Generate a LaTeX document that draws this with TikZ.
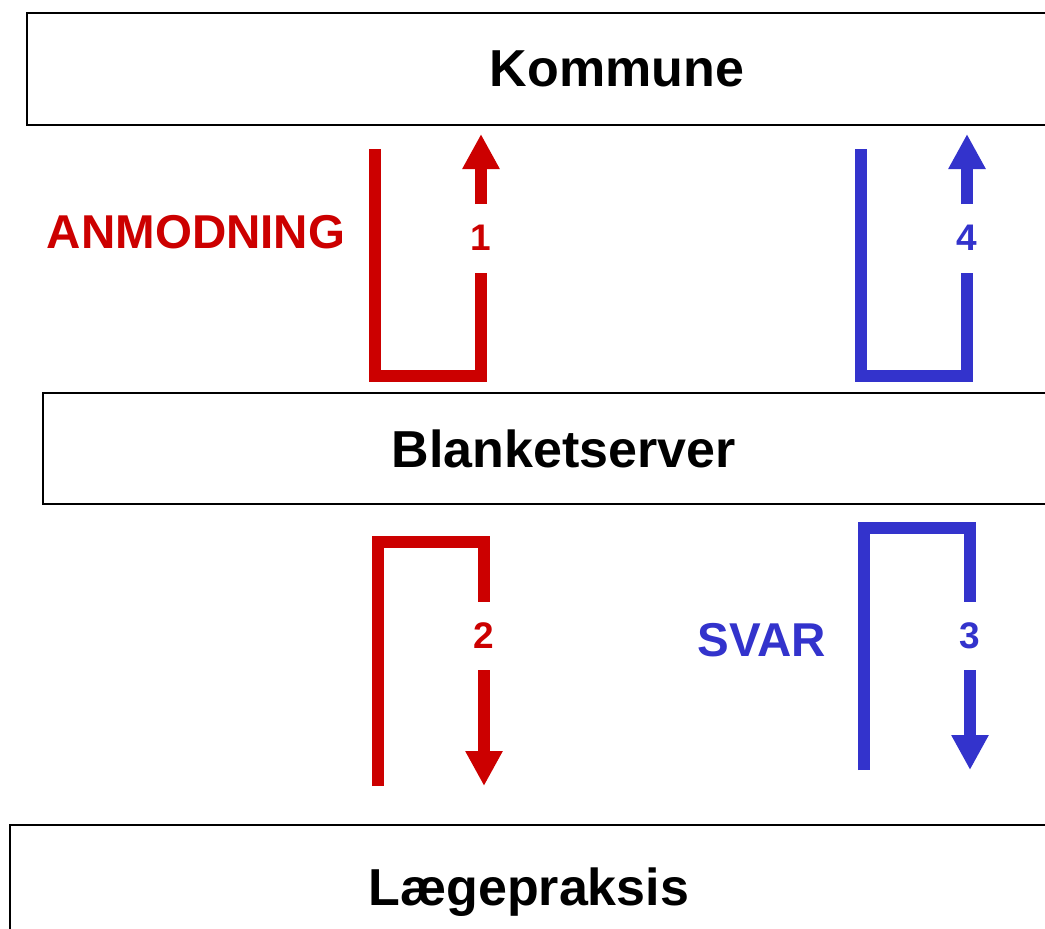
\documentclass[tikz,border=0pt]{standalone}
\usepackage{fontspec}
\setmainfont{Liberation Sans}
\usetikzlibrary{arrows.meta}
\definecolor{myred}{HTML}{CC0000}
\definecolor{myblue}{HTML}{3333CC}
\tikzset{
  box/.style={draw=black, line width=1.6pt, rectangle, anchor=north west, inner sep=0pt,
    font=\fontsize{52}{60}\selectfont\bfseries, text depth=0pt},
  flow/.style={line width=12pt, line join=miter, line cap=butt},
  flowtip/.style={flow, -{Triangle[width=35pt,length=35pt]}},
  num/.style={font=\fontsize{37}{44}\selectfont\bfseries, inner sep=0pt, text depth=0pt},
  tag/.style={font=\fontsize{47.5}{56}\selectfont\bfseries, inner sep=0pt, text depth=0pt},
}
\begin{document}
\begin{tikzpicture}[x=1pt,y=-1pt]
\useasboundingbox (0,0) rectangle (1045,929);
\fill[white] (0,0) rectangle (1045,929);
\clip (0,0) rectangle (1045,929);
% boxes
\node[box, minimum width=1180pt, minimum height=112pt] (kommune) at (26,12) {Kommune};
\node[box, minimum width=1042pt, minimum height=111pt] (blanket) at (42,392) {Blanketserver};
\node[box, minimum width=1038pt, minimum height=124pt] (laege) at (9,824) {Lægepraksis};
% labels
\node[tag, text=myred] (anm) at (196,232) {ANMODNING};
\node[tag, text=myblue] (svar) at (762,640) {SVAR};
% arrow 1 (red, up)
\coordinate (r1a) at (375,149);
\coordinate (r1b) at (375,375.5);
\coordinate (r1c) at (481,375.5);
\coordinate (r1d) at (481,273);
\coordinate (r1e) at (481,204);
\coordinate (r1f) at (481,134);
\node[num, text=myred] (n1) at (481,238) {1};
\draw[flow, myred] (r1a) -- (r1b) -- (r1c) -- (r1d);
\draw[flowtip, myred] (r1e) -- (r1f);
% arrow 4 (blue, up)
\coordinate (b4a) at (861,149);
\coordinate (b4b) at (861,375.5);
\coordinate (b4c) at (967,375.5);
\coordinate (b4d) at (967,273);
\coordinate (b4e) at (967,204);
\coordinate (b4f) at (967,134);
\node[num, text=myblue] (n4) at (967,238) {4};
\draw[flow, myblue] (b4a) -- (b4b) -- (b4c) -- (b4d);
\draw[flowtip, myblue] (b4e) -- (b4f);
% arrow 2 (red, down)
\coordinate (r2a) at (378,786);
\coordinate (r2b) at (378,542);
\coordinate (r2c) at (484,542);
\coordinate (r2d) at (484,602);
\coordinate (r2e) at (484,670);
\coordinate (r2f) at (484,786);
\node[num, text=myred] (n2) at (484,636) {2};
\draw[flow, myred] (r2a) -- (r2b) -- (r2c) -- (r2d);
\draw[flowtip, myred] (r2e) -- (r2f);
% arrow 3 (blue, down)
\coordinate (b3a) at (864,770);
\coordinate (b3b) at (864,528);
\coordinate (b3c) at (970,528);
\coordinate (b3d) at (970,602);
\coordinate (b3e) at (970,670);
\coordinate (b3f) at (970,770);
\node[num, text=myblue] (n3) at (970,636) {3};
\draw[flow, myblue] (b3a) -- (b3b) -- (b3c) -- (b3d);
\draw[flowtip, myblue] (b3e) -- (b3f);
\end{tikzpicture}
\end{document}
